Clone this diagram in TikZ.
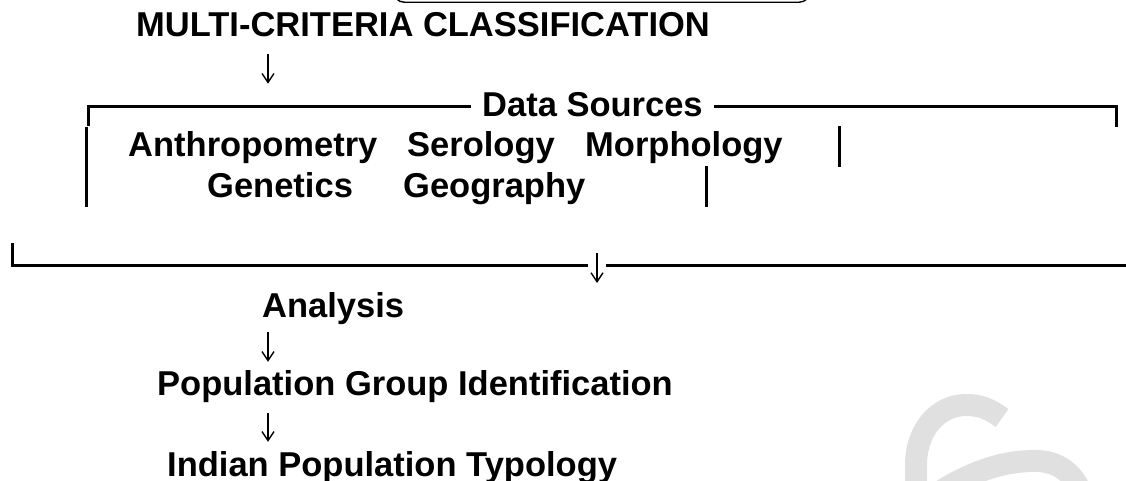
\documentclass[tikz,border=0pt]{standalone}
\usepackage{fontspec}
\setmainfont{Liberation Sans}
\usetikzlibrary{arrows.meta}
\definecolor{wm}{RGB}{224,224,224}
\tikzset{
  lbl/.style={inner sep=0pt, anchor=base west, font=\fontsize{34.5}{40}\selectfont\bfseries},
  frame/.style={line width=3pt},
  arr/.style={line width=1.4pt, -{Straight Barb[length=9pt,width=12pt]}},
}
\begin{document}
\begin{tikzpicture}[x=1pt,y=-1pt]
\useasboundingbox (0,0) rectangle (1126,481);
\clip (0,0) rectangle (1126,481);

% faint watermark strokes
\draw[wm, line width=22pt] (1002,418) .. controls (990,409) and (980,405) .. (966,405)
  .. controls (938,405) and (916,430) .. (916,465) -- (916,495);
\draw[wm, line width=22pt] (935,495) .. controls (965,475) and (1000,460) .. (1038,461)
  .. controls (1060,462) and (1075,475) .. (1082,495);

% header box (only its lower edge lies inside the page)
\node[draw, line width=1.4pt, rounded corners=12pt, minimum width=418pt,
      minimum height=60pt, anchor=south west, inner sep=0pt] (hdr) at (392,3) {};

% labels
\node[lbl] (mc)   at (136,37)  {MULTI-CRITERIA CLASSIFICATION};
\node[lbl, inner xsep=11pt] (ds) at (471,117) {Data Sources};
\node[lbl] (anth) at (128,157) {Anthropometry};
\node[lbl] (sero) at (407,157) {Serology};
\node[lbl] (morp) at (585,157) {Morphology};
\node[lbl] (gene) at (207,197) {Genetics};
\node[lbl] (geog) at (403,197) {Geography};
\node[lbl] (ana)  at (262,317) {Analysis};
\node[lbl] (pgi)  at (157,395) {Population Group Identification};
\node[lbl] (ipt)  at (167,476) {Indian Population Typology};

% bracket frame around the data sources
\draw[frame] (ds.west) ++(0,1) -| (88,126);
\draw[frame] (86,127) -- (86,207);
\draw[frame] (ds.east) ++(0,1) -| (1116,127);
\draw[frame] (839,126) -- (839,167);
\draw[frame] (706,166) -- (706,207);
\draw[frame] (12,243) |- (588,265);
\draw[frame] (606,265) -- (1130,265);

% flow arrows
\coordinate (col) at (268,0);
\coordinate (mid) at (597,265);
\draw[arr, shorten <=16.5pt, shorten >=9pt] (mc.south -| col) -- (ds.north -| col);
\draw[arr] (mid) ++(0,-12) -- ++(0,30);
\draw[arr, shorten <=8pt, shorten >=8pt] (ana.south -| col) -- (pgi.north -| col);
\draw[arr, shorten <=11pt, shorten >=9pt] (pgi.south -| col) -- (ipt.north -| col);
\end{tikzpicture}
\end{document}
